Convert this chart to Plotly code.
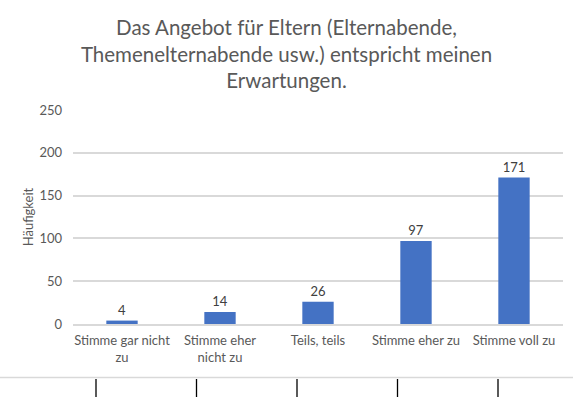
import plotly.graph_objects as go

# Survey answers and their counts
categories = ["Stimme gar nicht<br>zu", "Stimme eher<br>nicht zu", "Teils, teils",
              "Stimme eher zu", "Stimme voll zu"]
counts = [4, 14, 26, 97, 171]
y_ticks = [0, 50, 100, 150, 200, 250]

title_text = ("Das Angebot für Eltern (Elternabende,<br>"
              "Themenelternabende usw.) entspricht meinen<br>"
              "Erwartungen.")

W, H = 573, 397
FONT = "Lato, Carlito, 'Open Sans', sans-serif"
GRID = "#d9d9d9"
TEXT = "#595959"

fig = go.Figure(
    go.Bar(
        x=categories,
        y=counts,
        marker=dict(color="#4472c4", line=dict(width=0)),
        text=[str(v) for v in counts],
        textposition="outside",
        textfont=dict(family=FONT, size=13, color="#404040"),
        cliponaxis=False,
        width=0.32,
    )
)

# plot area in pixels
L, R, T, B = 73, 563, 110, 324


def px_x(p):
    return (p - L) / (R - L)


def px_y(p):
    return (B - p) / (B - T)


shapes = [
    # separator line along the bottom edge
    dict(type="line", xref="paper", yref="paper", x0=px_x(0), x1=px_x(W),
         y0=px_y(377.5), y1=px_y(377.5), line=dict(color=GRID, width=1.5)),
]
for p in [96, 196.5, 297, 397.5, 498]:
    shapes.append(dict(type="line", xref="paper", yref="paper",
                       x0=px_x(p), x1=px_x(p), y0=px_y(379), y1=px_y(398),
                       line=dict(color="#000000", width=1.3)))

fig.update_layout(
    width=W, height=H,
    margin=dict(l=L, r=W - R, t=T, b=H - B, pad=0),
    paper_bgcolor="white", plot_bgcolor="white",
    showlegend=False,
    title=dict(text=title_text, x=0.5, xref="container", xanchor="center",
               y=1 - 35 / H, yref="container", yanchor="top",
               font=dict(family=FONT, size=20.5, color=TEXT)),
    xaxis=dict(showgrid=False, showline=True, linecolor=GRID, linewidth=1.5,
               ticks="", ticklabelstandoff=4,
               tickfont=dict(family=FONT, size=13, color=TEXT),
               fixedrange=True),
    yaxis=dict(range=[0, 250], tickvals=y_ticks, showgrid=True, gridcolor=GRID,
               gridwidth=1.5, zeroline=False, showline=False, ticks="",
               ticklabelstandoff=10,
               tickfont=dict(family=FONT, size=13, color=TEXT),
               title=dict(text="Häufigkeit", standoff=2,
                          font=dict(family=FONT, size=13, color=TEXT))),
    shapes=shapes,
)

fig.write_html("out.html")
